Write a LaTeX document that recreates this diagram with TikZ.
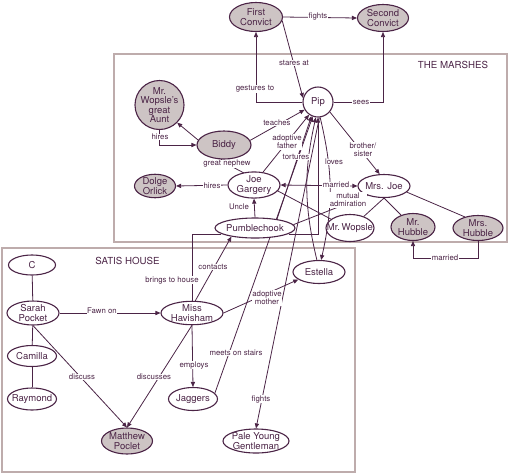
\documentclass[tikz,border=0pt]{standalone}
\usepackage{fontspec}
\setmainfont{TeX Gyre Heros}
\usetikzlibrary{shapes.geometric,arrows.meta}
\pgfdeclarelayer{bg}
\pgfdeclarelayer{edges}
\pgfsetlayers{bg,edges,main}
\definecolor{ink}{HTML}{4B2446}
\definecolor{shade}{HTML}{CDC4C4}
\definecolor{frame}{HTML}{BEACAC}
\newcommand{\z}[1]{\makebox[0pt]{#1}}
\begin{document}
\begin{tikzpicture}[x=1pt,y=-1pt,
  concept/.style={ellipse, draw=ink, line width=1.1pt, fill=white, inner sep=0pt, text=ink,
    font=\fontsize{9.5}{9.5}\selectfont, align=center},
  greyc/.style={concept, fill=shade},
  ew/.style 2 args={minimum width=#1pt, minimum height=#2pt},
  lbl/.style={fill=white, inner sep=0.5pt, text=ink, font=\fontsize{7.8}{8.3}\selectfont, align=center},
  boxtitle/.style={text=ink, font=\fontsize{9.7}{10}\selectfont, inner sep=0pt},
  rel/.style={draw=ink, line width=0.8pt},
  arr/.style={rel, -{Triangle[length=5pt,width=4.2pt]}},
  darr/.style={rel, {Triangle[length=5pt,width=4.2pt]}-{Triangle[length=5pt,width=4.2pt]}}
]
\useasboundingbox (0,0) rectangle (509,475);

% concept nodes
\node[greyc, ew={53}{29}] (fc) at (256,17) {\z{First}\\\z{Convict}};
\node[greyc, ew={51}{27}] (sc) at (383,18) {\z{Second}\\\z{Convict}};
\node[concept, circle, minimum size=30pt] (pip) at (318,102) {\z{Pip}};
\node[greyc, circle, minimum size=49pt] (aunt) at (159.5,105) {\z{Mr.}\\\z{Wopsle's}\\\z{great}\\\z{Aunt}};
\node[greyc, ew={54}{28}] (biddy) at (224,145) {\z{Biddy}};
\node[concept, ew={52}{26}] (joe) at (254,185) {\z{Joe}\\\z{Gargery}};
\node[greyc, ew={41}{22}] (orlick) at (155,186) {\z{Dolge}\\\z{Orlick}};
\node[concept, ew={52}{23}] (mrsjoe) at (384,186) {\z{Mrs. Joe}};
\node[concept, ew={80}{20}] (pumble) at (255,228) {\z{Pumblechook}};
\node[concept, ew={48}{27}] (wopsle) at (350,228) {\z{Mr.\,Wopsle}};
\node[greyc, ew={44}{27}] (hub) at (413,227) {\z{Mr.}\\\z{Hubble}};
\node[greyc, ew={50}{25}] (mrshub) at (478,228) {\z{Mrs.}\\\z{Hubble}};
\node[concept, ew={52}{23}] (estella) at (319,272) {\z{Estella}};
\node[concept, ew={47}{20}] (c) at (32,265) {\z{C}};
\node[concept, ew={52}{24}] (sarah) at (33,313) {\z{Sarah}\\\z{Pocket}};
\node[concept, ew={49}{21}] (camilla) at (32,356) {\z{Camilla}};
\node[concept, ew={49}{22}] (raymond) at (32,399) {\z{Raymond}};
\node[concept, ew={62}{23}] (hav) at (192,313) {\z{Miss}\\\z{Havisham}};
\node[concept, ew={49}{23}] (jag) at (193,399) {\z{Jaggers}};
\node[greyc, ew={51}{26}] (matt) at (127,441) {\z{Matthew}\\\z{Poclet}};
\node[concept, ew={66}{24}] (pyg) at (256,441) {\z{Pale Young}\\\z{Gentleman}};

% region titles
\node[boxtitle] (tmarsh) at (453,65) {THE MARSHES};
\node[boxtitle] (tsatis) at (127.5,261) {SATIS HOUSE};

% link labels
\node[lbl] (l1) at (318,16) {fights};
\node[lbl] (l2) at (294,63) {stares at};
\node[lbl] (l3) at (255,89) {gestures to};
\node[lbl] (l4) at (361,102) {sees};
\node[lbl] (gn) at (227,164) {great nephew};
\node[lbl] (l6) at (160,137) {hires};
\node[lbl] (l7) at (277,123) {teaches};
\node[lbl] (l8) at (287,142) {adoptive\\father};
\node[lbl] (l9) at (296,157) {tortures};
\node[lbl] (l10) at (236,353) {meets on stairs};
\node[lbl] (l11) at (261,399) {fights};
\node[lbl] (l12) at (334,162) {loves};
\node[lbl] (l13) at (336,185) {married};
\node[lbl] (l14) at (363,150) {brother/\\sister};
\node[lbl] (l15) at (348,200) {mutual\\admiration};
\node[lbl] (l16) at (445,258) {married};
\node[lbl] (l17) at (212,186) {hires};
\node[lbl] (l18) at (239,207) {Uncle};
\node[lbl] (l19) at (213,267) {contacts};
\node[lbl] (l20) at (172,280) {brings to house};
\node[lbl] (l21) at (102,311) {Fawn on};
\node[lbl] (l22) at (267,298) {adoptive\\mother};
\node[lbl] (l23) at (194,365) {employs};
\node[lbl] (l24) at (154,377) {discusses};
\node[lbl] (l25) at (82,377) {discuss};

\begin{pgfonlayer}{bg}
  \draw[frame, line width=2pt] (114,54) rectangle (507,242);
  \draw[frame, line width=2pt] (2,248) rectangle (355,472);
\end{pgfonlayer}

\begin{pgfonlayer}{edges}
  \draw[arr] (fc.east) -- (sc.west);
  \draw[arr] (fc.-8) -- (pip.165);
  \draw[arr] (pip.west) -| (fc.south);
  \draw[arr] (pip.east) -| (sc.south);
  \draw[arr] (wopsle.155) -- (gn.center) -- (aunt.-45);
  \draw[arr] (aunt.south) |- (biddy.west);
  \draw[arr] (biddy.10) -- (pip.210);
  \draw[arr] (joe.55) -- (pip.235);
  \draw[arr] (pumble.22) -- (pip.245);
  \draw[arr] (jag.15) -- (pip.250);
  \draw[arr] (pip.275) -- (pyg.north);
  \draw[arr] (estella.100) to[bend left=13] (pip.262);
  \draw[arr] (pip.278) to[bend left=13] (estella.80);
  \draw[arr] (pumble.-10) -| (pip.south);
  \draw[darr] (joe.east) -- (mrsjoe.west);
  \draw[arr] (pip.-40) -- (mrsjoe.110);
  \draw[rel] (pumble.5) -- (mrsjoe.210);
  \draw[rel] (mrsjoe.south) -- (wopsle.40);
  \draw[rel] (mrsjoe.south) -- (hub.135);
  \draw[rel] (mrsjoe.-15) -- (mrshub.140);
  \draw[arr] (mrshub.south) -- ++(0,17) -| (hub.south);
  \draw[arr] (joe.west) -- (orlick.east);
  \draw[arr] (pumble.north) -- (joe.south);
  \draw[arr] (hav.75) -- (pumble.200);
  \draw[rel] (pumble.190) -| (hav.north);
  \draw[arr] (sarah.east) -- (hav.west);
  \draw[arr] (hav.east) -- (estella.200);
  \draw[arr] (hav.south) -- (jag.north);
  \draw[arr] (hav.south) -- (matt.north);
  \draw[arr] (sarah.south) -- (matt.north);
  \draw[rel] (c) -- (sarah);
  \draw[rel] (sarah) -- (camilla);
  \draw[rel] (camilla) -- (raymond);
\end{pgfonlayer}
\end{tikzpicture}
\end{document}
